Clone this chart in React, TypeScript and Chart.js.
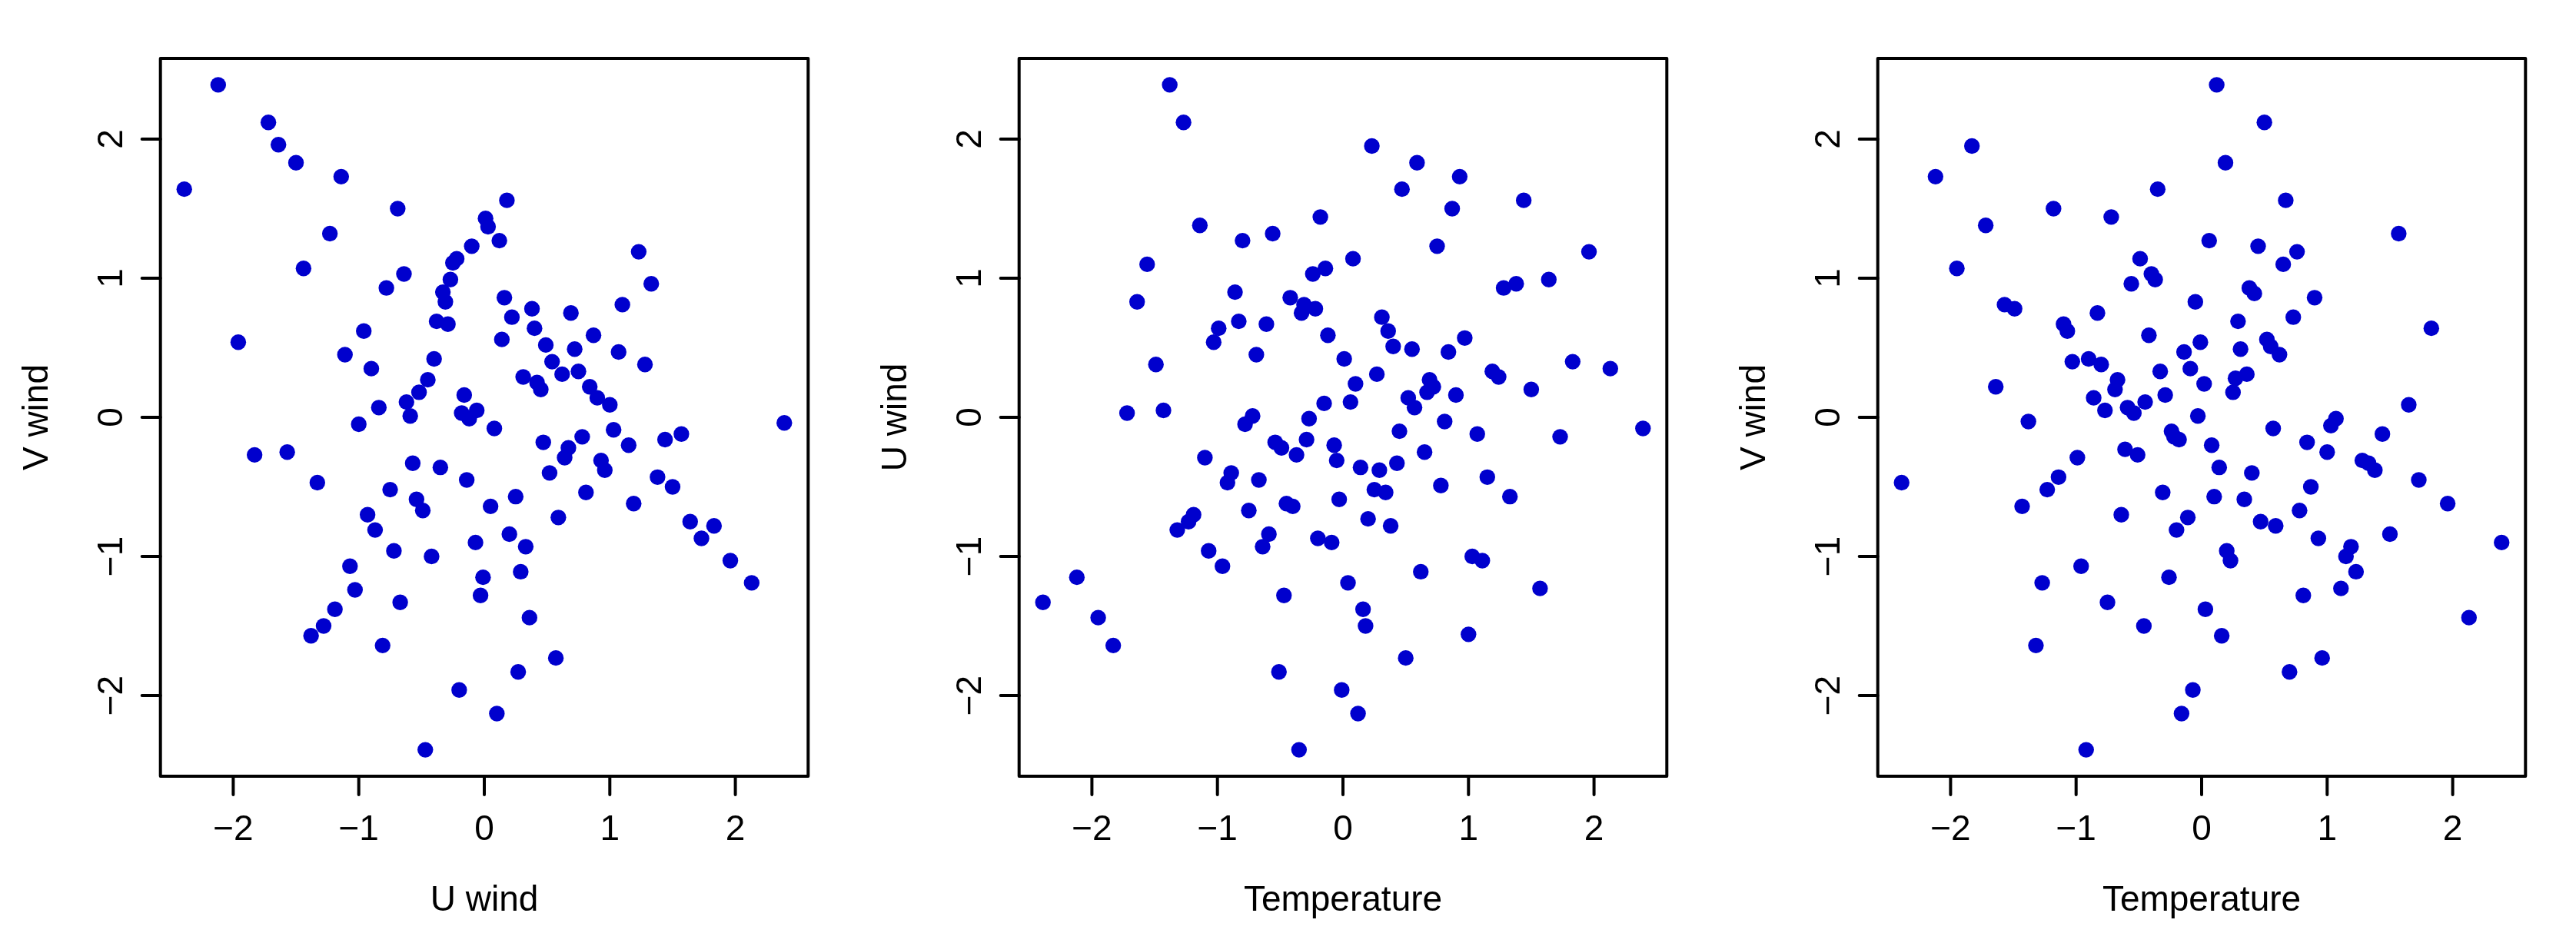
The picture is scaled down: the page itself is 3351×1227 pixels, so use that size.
import React, { useEffect, useRef } from "react";
import { Chart, registerables } from "chart.js";

Chart.register(...registerables);

// ---------- data ----------
// Panel 1: U wind (x) vs V wind (y)
const p1U = [
  -2.12, -1.72, -1.64, -1.5, -1.14, -2.39, -0.69, 0.01, 0.03, -1.23, -0.1, -0.22, -0.25, -1.44, -0.64, -0.27, -0.78, -0.33,
  -0.31, -0.38, -0.29, -0.96, -1.96, -1.11, -0.4, -0.9, -0.45, -0.52, -0.16, -0.62, -0.84, -0.59, -0.18, -0.06, -0.12, -1.0,
  0.18, 0.12, 1.23, 1.33, 0.16, 1.1, 0.38, 0.22, 0.69, 0.4, 0.87, 0.14, 0.49, 0.72, 1.07, 0.54, 1.28, 0.31, 0.42, 0.45,
  0.62, 0.75, 0.84, 0.9, 1.0,
  0.08, 0.47, 0.67, 0.64, 0.78, 1.03, 1.15, 1.44, 1.57, 2.39, 0.52, 0.93, 0.96, 1.38, 1.5, 0.25, 0.05, 0.81, 1.19, 0.59,
  0.2, 0.33, 1.64, 1.83, 1.73, 1.96, 2.13, -0.01, -0.03, 0.29, 0.36, 0.57, 0.27, 0.1,
  -1.83, -1.57, -0.57, -0.35, -1.33, -0.14, -0.75, -0.54, -0.49, -0.93, -0.87, -0.07, -0.72, -0.42, -1.07, -1.03, -0.67,
  -1.19, -1.28, -1.38, -0.81, -0.2, -0.47,
];
const p1V = [
  2.39, 2.12, 1.96, 1.83, 1.73, 1.64, 1.5, 1.43, 1.37, 1.32, 1.23, 1.14, 1.11, 1.07, 1.03, 0.99, 0.93, 0.9,
  0.83, 0.69, 0.67, 0.62, 0.54, 0.45, 0.42, 0.35, 0.27, 0.18, 0.16, 0.11, 0.07, 0.01, 0.03, 0.05, -0.01, -0.05,
  1.56, 1.27, 1.19, 0.96, 0.86, 0.81, 0.78, 0.72, 0.75, 0.64, 0.59, 0.56, 0.52, 0.49, 0.47, 0.4, 0.38, 0.29, 0.25, 0.2,
  0.31, 0.33, 0.22, 0.14, 0.09,
  -0.08, -0.18, -0.22, -0.29, -0.14, -0.09, -0.2, -0.16, -0.12, -0.04, -0.4, -0.31, -0.38, -0.43, -0.5, -0.57, -0.64, -0.54,
  -0.62, -0.72, -0.84, -0.93, -0.75, -0.78, -0.87, -1.03, -1.19, -1.15, -1.28, -1.11, -1.44, -1.73, -1.83, -2.13,
  -0.27, -0.25, -0.33, -0.36, -0.47, -0.45, -0.52, -0.59, -0.67, -0.7, -0.81, -0.9, -0.96, -1.0, -1.07, -1.24, -1.33,
  -1.38, -1.5, -1.57, -1.64, -1.96, -2.39,
];

// Panel 2: Temperature (x) vs U wind (y)
const p2T = [
  -1.38, -1.27, -0.18, -1.14, -0.56, -0.8, -1.56, -0.14, -0.24, -1.64, -0.86, -0.42, -0.31, -0.22, -0.33, -0.83, -0.61,
  -0.99, -1.03, -0.12, -0.69, -1.49, -0.15, -1.72, -1.43, -0.72, -0.78, -0.27,
  0.23, 0.59, 0.93, 0.47, 0.87, 1.44, 0.75, 0.08, 1.96, 1.64, 1.38, 1.28, 0.31, 0.36, 0.4, 0.55, 0.01, 0.97, 0.84, 0.27,
  0.1, 0.06, 0.69, 0.72, 0.67, 0.52, 0.57, 0.9, 1.19, 1.24, 1.5, 1.83, 2.13, 0.81,
  0.45, 1.07, 1.73, 2.39, 0.14, 0.29, 0.43, 0.65, 0.25, 0.34, 0.78, 1.15, 1.33, 0.2, 0.38, 1.03, 1.11, 0.62, 1.57, 0.16,
  0.18, 1.0, 0.5, 0.12,
  -0.29, -0.54, -0.49, -0.37, -0.07, -0.05, -1.1, -0.89, -0.92, -0.67, -0.03, -1.19, -1.23, -1.32, -0.75, -0.45, -0.4,
  -0.59, -0.64, -0.2, -0.09, -1.07, -0.96, -2.12, -2.39, -1.95, -1.83, -0.47, 0.04, -0.51, -0.01, -0.35,
];
const p2U = [
  2.39, 2.12, 1.44, 1.38, 1.32, 1.27, 1.1, 1.07, 1.03, 0.83, 0.9, 0.86, 0.81, 0.78, 0.75, 0.69, 0.67,
  0.64, 0.54, 0.59, 0.45, 0.38, 0.1, 0.03, 0.05, 0.01, -0.05, -0.01,
  1.95, 1.83, 1.73, 1.64, 1.5, 1.56, 1.23, 1.14, 1.19, 0.99, 0.96, 0.93, 0.72, 0.62, 0.51, 0.49, 0.42, 0.57, 0.47, 0.31,
  0.24, 0.11, 0.27, 0.22, 0.18, 0.14, 0.07, 0.16, 0.33, 0.29, 0.2, 0.4, 0.35, -0.03,
  -0.1, -0.12, -0.14, -0.08, -0.36, -0.38, -0.33, -0.25, -0.52, -0.54, -0.49, -0.43, -0.57, -0.73, -0.78, -1.0, -1.03, -1.11,
  -1.23, -1.38, -1.5, -1.56, -1.73, -2.13,
  -0.16, -0.18, -0.22, -0.27, -0.2, -0.31, -0.29, -0.4, -0.47, -0.45, -0.59, -0.7, -0.75, -0.81, -0.67, -0.62, -0.64,
  -0.84, -0.93, -0.87, -0.9, -0.96, -1.07, -1.15, -1.33, -1.44, -1.64, -1.28, -1.19, -1.83, -1.96, -2.39,
];

// Panel 3: Temperature (x) vs V wind (y)
const p3T = [
  -1.83, -2.12, -0.35, -1.18, -0.72, -1.72, -0.49, -1.95, -0.4, -0.37, -0.56, -1.57, -1.49, -0.83, -1.1, -1.07, -0.42,
  -0.14, -1.03, -0.9, -0.8, -0.33, -0.67, -0.69, -1.64, -0.86, -0.29, -0.45, -0.77, -0.59, -0.54,
  0.12, 0.5, 0.19, 0.67, 1.57, 0.06, 0.45, 0.76, 0.65, -0.05, 0.38, 0.42, 0.9, 0.29, 0.73, 1.83, -0.01, 0.31, 0.52, 0.55,
  0.62, -0.09, 0.02, 0.27, 0.36, 0.25, -0.03, 1.65,
  0.57, 1.07, 1.03, 1.44, 0.08, 0.84, 1.0, 1.28, 1.33, 1.38, 0.14, 0.4, 1.73, 0.87, 0.1, 0.34, 1.96, 0.78, 0.47, 0.59, 0.93,
  1.5, 2.39, 0.2, 0.23, 1.19, 1.15, 1.23, 1.11, 0.81, 0.03, 0.16, 2.13, 0.96, 0.7,
  -1.38, -0.24, -0.18, -0.22, -0.61, -0.51, -0.99, -2.39, -1.14, -1.23, -1.43, -0.31, -0.64, -0.11, -0.2, -0.96, -1.27,
  -0.26, -0.75, -0.46, -1.32, -0.07, -0.16, -0.92,
];
const p3V = [
  1.95, 1.73, 1.64, 1.5, 1.44, 1.38, 1.14, 1.07, 1.03, 0.99, 0.96, 0.81, 0.78, 0.75, 0.67, 0.62, 0.59,
  0.47, 0.4, 0.42, 0.38, 0.33, 0.27, 0.2, 0.22, 0.14, 0.16, 0.11, 0.05, 0.07, 0.03,
  2.39, 2.12, 1.83, 1.56, 1.32, 1.27, 1.23, 1.19, 1.1, 0.83, 0.93, 0.89, 0.86, 0.69, 0.72, 0.64, 0.54, 0.49, 0.56, 0.51,
  0.45, 0.35, 0.24, 0.28, 0.31, 0.18, 0.01, 0.09,
  -0.08, -0.01, -0.06, -0.12, -0.2, -0.18, -0.25, -0.31, -0.33, -0.38, -0.36, -0.4, -0.45, -0.5, -0.57, -0.59, -0.62, -0.67,
  -0.75, -0.78, -0.87, -0.84, -0.9, -0.96, -1.03, -0.93, -1.0, -1.11, -1.23, -1.28, -1.38, -1.57, -1.44, -1.73, -1.83,
  -0.03, -0.1, -0.16, -0.14, -0.23, -0.27, -0.29, -0.47, -0.43, -0.52, -0.64, -0.54, -0.7, -0.72, -0.81, -1.07, -1.19,
  -1.15, -1.33, -1.5, -1.64, -1.96, -2.13, -2.39,
];

const tickValues = [-2, -1, 0, 1, 2];
const tickLabels = ["\u22122", "\u22121", "0", "1", "2"];
const axisLimit = 2.58;

const panelTitles = [
  { x: "U wind", y: "V wind" },
  { x: "Temperature", y: "U wind" },
  { x: "Temperature", y: "V wind" },
];
const panelData = [
  { xs: p1U, ys: p1V },
  { xs: p2T, ys: p2U },
  { xs: p3T, ys: p3V },
];

// ---------- layout ----------
const PAGE_W = 3351;
const PAGE_H = 1227;
const CANVAS_W = 1117;
const CANVAS_LEFTS = [0, 1117, 2234];
const PAD = { left: 208.7, right: 65.7, top: 76, bottom: 217 };
const FONT_PX = 46;
const LINE = 46; // margin line height
const BIAS = 0.2; // R's yLineBias
const TICK_LEN = 24;
const Y_LABEL_GAP = 50;
const POINT_COLOR = "#0000CD";

const rFrame = {
  id: "rFrame",
  afterDraw(chart: any, _args: any, opts: any) {
    const { ctx, chartArea: a, scales } = chart;
    const xs = scales.x;
    const ys = scales.y;
    ctx.save();
    ctx.strokeStyle = "#000";
    ctx.fillStyle = "#000";
    ctx.lineWidth = 4;
    ctx.lineJoin = "round";
    ctx.lineCap = "round";
    ctx.strokeRect(a.left, a.top, a.right - a.left, a.bottom - a.top);
    ctx.font = `${FONT_PX}px "Liberation Sans", Arial, sans-serif`;
    ctx.textAlign = "center";
    ctx.textBaseline = "alphabetic";
    // x ticks + labels (side 1, line 1)
    tickValues.forEach((v, i) => {
      const px = xs.getPixelForValue(v);
      ctx.beginPath();
      ctx.moveTo(px, a.bottom);
      ctx.lineTo(px, a.bottom + TICK_LEN);
      ctx.stroke();
      ctx.fillText(tickLabels[i], px, a.bottom + (1 + 1 - BIAS) * LINE);
    });
    // y ticks + labels (side 2, line 1, rotated)
    tickValues.forEach((v, i) => {
      const py = ys.getPixelForValue(v);
      ctx.beginPath();
      ctx.moveTo(a.left, py);
      ctx.lineTo(a.left - TICK_LEN, py);
      ctx.stroke();
      ctx.save();
      ctx.translate(a.left - Y_LABEL_GAP, py);
      ctx.rotate(-Math.PI / 2);
      ctx.fillText(tickLabels[i], 0, 0);
      ctx.restore();
    });
    // axis titles (line 3)
    const cx = (a.left + a.right) / 2;
    const cy = (a.top + a.bottom) / 2;
    ctx.fillText(opts.xTitle, cx, a.bottom + (3 + 1 - BIAS) * LINE);
    ctx.save();
    ctx.translate(a.left - (3 + BIAS) * LINE, cy);
    ctx.rotate(-Math.PI / 2);
    ctx.fillText(opts.yTitle, 0, 0);
    ctx.restore();
    ctx.restore();
  },
};

function Panel({ index }: { index: number }) {
  const ref = useRef<HTMLCanvasElement | null>(null);
  useEffect(() => {
    const canvas = ref.current;
    if (!canvas) return;
    const d = panelData[index];
    const pts = d.xs.map((x, i) => ({ x, y: d.ys[i] }));
    const chart = new Chart(canvas, {
      type: "scatter",
      data: {
        datasets: [
          {
            data: pts,
            backgroundColor: POINT_COLOR,
            borderColor: POINT_COLOR,
            borderWidth: 0,
            pointRadius: 10.2,
            pointHoverRadius: 10.2,
          },
        ],
      },
      options: {
        animation: false,
        responsive: false,
        maintainAspectRatio: false,
        devicePixelRatio: 1,
        layout: { padding: PAD },
        plugins: {
          legend: { display: false },
          tooltip: { enabled: false },
          title: { display: false },
          rFrame: { xTitle: panelTitles[index].x, yTitle: panelTitles[index].y },
        } as any,
        scales: {
          x: { type: "linear", min: -axisLimit, max: axisLimit, display: false },
          y: { type: "linear", min: -axisLimit, max: axisLimit, display: false },
        },
      },
      plugins: [rFrame],
    });
    return () => chart.destroy();
  }, [index]);
  return (
    <canvas
      ref={ref}
      width={CANVAS_W}
      height={PAGE_H}
      style={{
        position: "absolute",
        left: CANVAS_LEFTS[index],
        top: 0,
        width: CANVAS_W,
        height: PAGE_H,
      }}
    />
  );
}

export default function App() {
  return (
    <div
      style={{
        position: "absolute",
        left: 0,
        top: 0,
        width: PAGE_W,
        height: PAGE_H,
        background: "#ffffff",
        overflow: "hidden",
      }}
    >
      {[0, 1, 2].map((i) => (
        <Panel key={i} index={i} />
      ))}
    </div>
  );
}
